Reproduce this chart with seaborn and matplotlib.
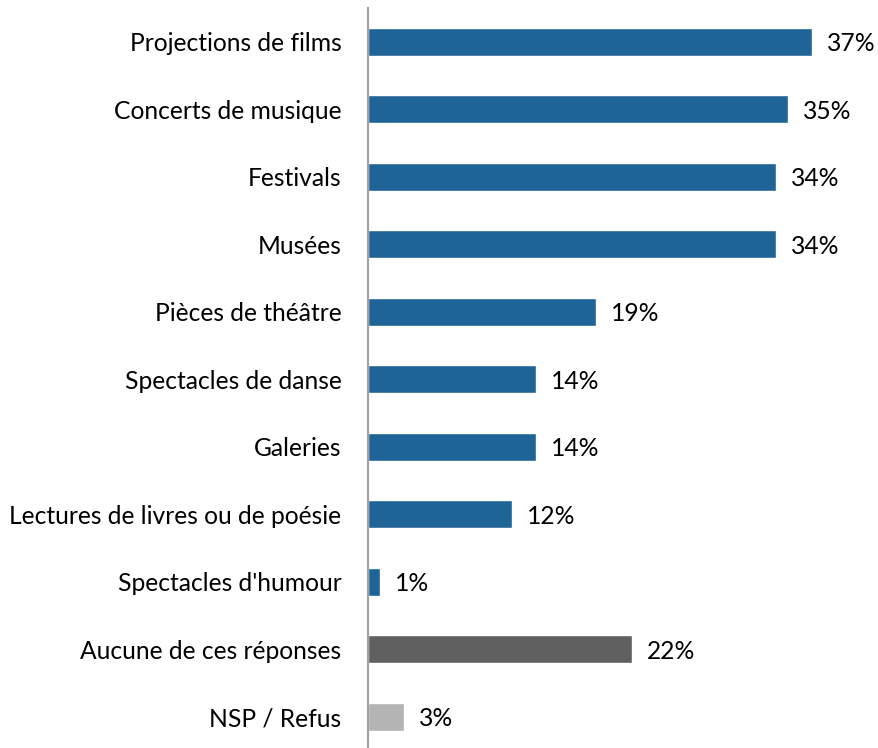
import pandas as pd
import seaborn as sns
import matplotlib.pyplot as plt

# Data
categories = ["Projections de films", "Concerts de musique", "Festivals", "Musées",
              "Pièces de théâtre", "Spectacles de danse", "Galeries",
              "Lectures de livres ou de poésie", "Spectacles d'humour",
              "Aucune de ces réponses", "NSP / Refus"]
values = [37, 35, 34, 34, 19, 14, 14, 12, 1, 22, 3]
groups = ["activite"] * 9 + ["aucune", "nsp"]
palette = {"activite": "#1F6496", "aucune": "#606060", "nsp": "#B4B4B4"}

df = pd.DataFrame({"categorie": categories, "valeur": values, "groupe": groups})

sns.set_style("white")
plt.rcParams['font.family'] = ['Lato', 'DejaVu Sans']

fig = plt.figure(figsize=(8.79, 7.48), dpi=100)
ax = fig.add_axes([368 / 879, -2.5 / 748, 504 / 879, 742.5 / 748])

sns.barplot(data=df, y="categorie", x="valeur", hue="groupe", palette=palette,
            dodge=False, width=0.415, saturation=1, legend=False, ax=ax, orient="h")

ax.set_xlim(0, 42)
ax.set_ylim(10.5, -0.5)
ax.set_xlabel("")
ax.set_ylabel("")
ax.set_xticks([])
for s in ["top", "right", "bottom"]:
    ax.spines[s].set_visible(False)
ax.spines["left"].set_color("#A0A0A0")
ax.spines["left"].set_linewidth(1.5)
ax.tick_params(axis="y", length=0, pad=19, labelsize=17.7, labelcolor="#000000")

for i, v in enumerate(values):
    ax.annotate(f"{v}%", (v, i), xytext=(11, -1.5), textcoords="offset points",
                va="center", ha="left", fontsize=17.7, color="#000000")

fig.savefig("out.png", dpi=100)
